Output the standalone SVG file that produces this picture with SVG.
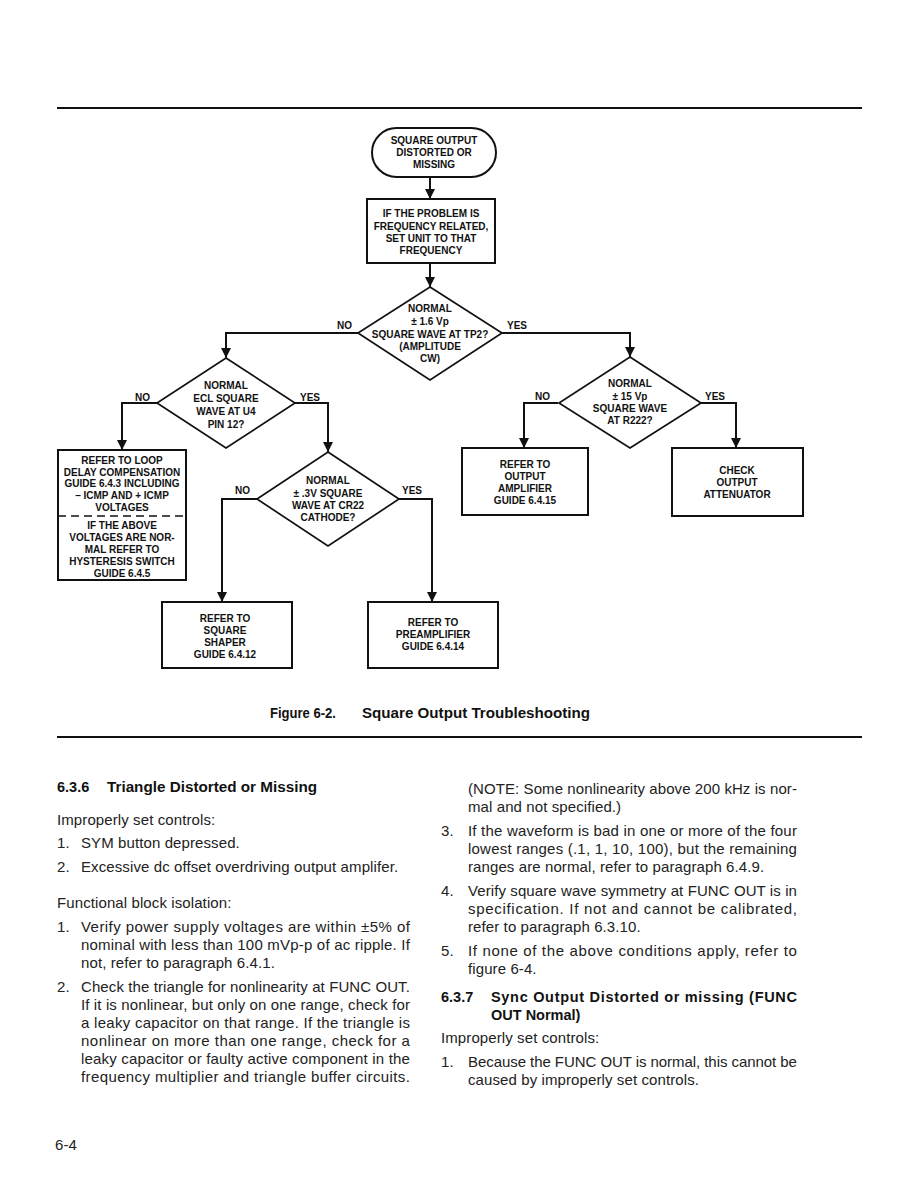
<svg xmlns="http://www.w3.org/2000/svg" width="918" height="1188" viewBox="0 0 918 1188">
<style>
.bg{fill:#fff}
.shape{fill:none;stroke:#111;stroke-width:2}
.dia{fill:none;stroke:#111;stroke-width:1.7}
.conn{fill:none;stroke:#111;stroke-width:2}
.fc{font-family:"Liberation Sans",Arial,sans-serif;font-weight:bold;font-size:10px;fill:#111;text-anchor:middle}
.lbl{font-family:"Liberation Sans",Arial,sans-serif;font-weight:bold;font-size:10px;fill:#111}
.body{font-family:"Liberation Sans",Arial,sans-serif;font-size:15px;letter-spacing:0.1px;fill:#222}
.hd{font-family:"Liberation Sans",Arial,sans-serif;font-weight:bold;font-size:14.5px;fill:#111}
.cap{font-family:"Liberation Sans",Arial,sans-serif;font-weight:bold;font-size:14px;fill:#111}
.rule{stroke:#111;stroke-width:2}
</style>
<defs>
<marker id="ah" markerUnits="userSpaceOnUse" markerWidth="10" markerHeight="10" refX="10" refY="5" orient="auto" viewBox="0 0 10 10">
<path d="M0,0 L10,5 L0,10 z" fill="#111"/>
</marker>
</defs>
<rect class="bg" x="0" y="0" width="918" height="1188"/>
<line class="rule" x1="57" y1="108" x2="862" y2="108"/>

<g id="connectors">
<line class="conn" x1="430" y1="177" x2="430" y2="199" marker-end="url(#ah)"/>
<line class="conn" x1="430" y1="263" x2="430" y2="287" marker-end="url(#ah)"/>
<polyline class="conn" points="358,333 226,333 226,358" marker-end="url(#ah)"/>
<polyline class="conn" points="502,333 630,333 630,357" marker-end="url(#ah)"/>
<polyline class="conn" points="157,403 122,403 122,450" marker-end="url(#ah)"/>
<polyline class="conn" points="295,403 328,403 328,452" marker-end="url(#ah)"/>
<polyline class="conn" points="257,499 222,499 222,602" marker-end="url(#ah)"/>
<polyline class="conn" points="398,499 432,499 432,602" marker-end="url(#ah)"/>
<polyline class="conn" points="558,403 524,403 524,448" marker-end="url(#ah)"/>
<polyline class="conn" points="700,403 736,403 736,448" marker-end="url(#ah)"/>
<text class="lbl" x="337" y="329">NO</text>
<text class="lbl" x="507" y="329">YES</text>
<text class="lbl" x="135" y="401">NO</text>
<text class="lbl" x="300" y="401">YES</text>
<text class="lbl" x="235" y="494">NO</text>
<text class="lbl" x="402" y="494">YES</text>
<text class="lbl" x="535" y="400">NO</text>
<text class="lbl" x="705" y="400">YES</text>
</g>

<g id="start">
<rect class="shape" x="372" y="128" width="124" height="49" rx="24.5" ry="24.5"/>
<text class="fc" x="434" y="144">SQUARE OUTPUT</text>
<text class="fc" x="434" y="156">DISTORTED OR</text>
<text class="fc" x="434" y="168">MISSING</text>
</g>

<g id="freq">
<rect class="shape" x="367" y="199" width="128" height="64"/>
<text class="fc" x="431" y="217">IF THE PROBLEM IS</text>
<text class="fc" x="431" y="230">FREQUENCY RELATED,</text>
<text class="fc" x="431" y="242">SET UNIT TO THAT</text>
<text class="fc" x="431" y="254">FREQUENCY</text>
</g>

<g id="d_tp2">
<polygon class="dia" points="430,287 502,333 430,380 358,333"/>
<text class="fc" x="430" y="312">NORMAL</text>
<text class="fc" x="430" y="325">± 1.6 Vp</text>
<text class="fc" x="430" y="338">SQUARE WAVE AT TP2?</text>
<text class="fc" x="430" y="350">(AMPLITUDE</text>
<text class="fc" x="430" y="362">CW)</text>
</g>

<g id="d_u4">
<polygon class="dia" points="226,358 295,403 226,448 157,403"/>
<text class="fc" x="226" y="389">NORMAL</text>
<text class="fc" x="226" y="402">ECL SQUARE</text>
<text class="fc" x="226" y="415">WAVE AT U4</text>
<text class="fc" x="226" y="428">PIN 12?</text>
</g>

<g id="d_r222">
<polygon class="dia" points="630,357 701,403 630,448 559,403"/>
<text class="fc" x="630" y="387">NORMAL</text>
<text class="fc" x="630" y="400">± 15 Vp</text>
<text class="fc" x="630" y="412">SQUARE WAVE</text>
<text class="fc" x="630" y="424">AT R222?</text>
</g>

<g id="d_cr22">
<polygon class="dia" points="328,452 399,499 328,546 257,499"/>
<text class="fc" x="328" y="484">NORMAL</text>
<text class="fc" x="328" y="497">± .3V SQUARE</text>
<text class="fc" x="328" y="509">WAVE AT CR22</text>
<text class="fc" x="328" y="521">CATHODE?</text>
</g>

<g id="loopdelay">
<rect class="shape" x="58" y="450" width="128" height="130"/>
<text class="fc" x="122" y="464">REFER TO LOOP</text>
<text class="fc" x="122" y="476">DELAY COMPENSATION</text>
<text class="fc" x="122" y="487">GUIDE 6.4.3 INCLUDING</text>
<text class="fc" x="122" y="499">– ICMP AND + ICMP</text>
<text class="fc" x="122" y="511">VOLTAGES</text>
<line x1="58" y1="516" x2="186" y2="516" stroke="#111" stroke-width="1.6" stroke-dasharray="8,5"/>
<text class="fc" x="122" y="529">IF THE ABOVE</text>
<text class="fc" x="122" y="541">VOLTAGES ARE NOR-</text>
<text class="fc" x="122" y="553">MAL REFER TO</text>
<text class="fc" x="122" y="565">HYSTERESIS SWITCH</text>
<text class="fc" x="122" y="577">GUIDE 6.4.5</text>
</g>

<g id="outamp">
<rect class="shape" x="462" y="448" width="126" height="67"/>
<text class="fc" x="525" y="468">REFER TO</text>
<text class="fc" x="525" y="480">OUTPUT</text>
<text class="fc" x="525" y="492">AMPLIFIER</text>
<text class="fc" x="525" y="504">GUIDE 6.4.15</text>
</g>

<g id="atten">
<rect class="shape" x="672" y="448" width="131" height="68"/>
<text class="fc" x="737" y="474">CHECK</text>
<text class="fc" x="737" y="486">OUTPUT</text>
<text class="fc" x="737" y="498">ATTENUATOR</text>
</g>

<g id="shaper">
<rect class="shape" x="162" y="602" width="130" height="66"/>
<text class="fc" x="225" y="622">REFER TO</text>
<text class="fc" x="225" y="634">SQUARE</text>
<text class="fc" x="225" y="646">SHAPER</text>
<text class="fc" x="225" y="658">GUIDE 6.4.12</text>
</g>

<g id="preamp">
<rect class="shape" x="368" y="602" width="130" height="66"/>
<text class="fc" x="433" y="626">REFER TO</text>
<text class="fc" x="433" y="638">PREAMPLIFIER</text>
<text class="fc" x="433" y="650">GUIDE 6.4.14</text>
</g>

<text class="cap" x="270" y="718" textLength="66" lengthAdjust="spacingAndGlyphs">Figure 6-2.</text>
<text class="cap" x="362" y="718" textLength="228" lengthAdjust="spacingAndGlyphs">Square Output Troubleshooting</text>
<line class="rule" x1="57" y1="737" x2="862" y2="737"/>

<g id="leftcol">
<text class="hd" x="57" y="792">6.3.6</text>
<text class="hd" x="107" y="792" textLength="210" lengthAdjust="spacingAndGlyphs">Triangle Distorted or Missing</text>
<text class="body" x="57" y="825">Improperly set controls:</text>
<text class="body" x="57" y="848">1.</text>
<text class="body" x="81" y="848">SYM button depressed.</text>
<text class="body" x="57" y="872">2.</text>
<text class="body" x="81" y="872">Excessive dc offset overdriving output amplifer.</text>
<text class="body" x="57" y="908">Functional block isolation:</text>
<text class="body" x="57" y="932">1.</text>
<text class="body" x="81" y="932" textLength="329" lengthAdjust="spacing">Verify power supply voltages are within ±5% of</text>
<text class="body" x="81" y="950" textLength="329" lengthAdjust="spacing">nominal with less than 100 mVp-p of ac ripple. If</text>
<text class="body" x="81" y="968">not, refer to paragraph 6.4.1.</text>
<text class="body" x="57" y="992">2.</text>
<text class="body" x="81" y="992" textLength="329" lengthAdjust="spacing">Check the triangle for nonlinearity at FUNC OUT.</text>
<text class="body" x="81" y="1010" textLength="329" lengthAdjust="spacing">If it is nonlinear, but only on one range, check for</text>
<text class="body" x="81" y="1028" textLength="329" lengthAdjust="spacing">a leaky capacitor on that range. If the triangle is</text>
<text class="body" x="81" y="1046" textLength="329" lengthAdjust="spacing">nonlinear on more than one range, check for a</text>
<text class="body" x="81" y="1064" textLength="329" lengthAdjust="spacing">leaky capacitor or faulty active component in the</text>
<text class="body" x="81" y="1082" textLength="329" lengthAdjust="spacing">frequency multiplier and triangle buffer circuits.</text>
</g>

<g id="rightcol">
<text class="body" x="468" y="794" textLength="329" lengthAdjust="spacing">(NOTE: Some nonlinearity above 200 kHz is nor-</text>
<text class="body" x="468" y="812">mal and not specified.)</text>
<text class="body" x="441" y="836">3.</text>
<text class="body" x="468" y="836" textLength="329" lengthAdjust="spacing">If the waveform is bad in one or more of the four</text>
<text class="body" x="468" y="854" textLength="329" lengthAdjust="spacing">lowest ranges (.1, 1, 10, 100), but the remaining</text>
<text class="body" x="468" y="872">ranges are normal, refer to paragraph 6.4.9.</text>
<text class="body" x="441" y="896">4.</text>
<text class="body" x="468" y="896" textLength="329" lengthAdjust="spacing">Verify square wave symmetry at FUNC OUT is in</text>
<text class="body" x="468" y="914" textLength="329" lengthAdjust="spacing">specification. If not and cannot be calibrated,</text>
<text class="body" x="468" y="932">refer to paragraph 6.3.10.</text>
<text class="body" x="441" y="956">5.</text>
<text class="body" x="468" y="956" textLength="329" lengthAdjust="spacing">If none of the above conditions apply, refer to</text>
<text class="body" x="468" y="974">figure 6-4.</text>
<text class="hd" x="441" y="1002">6.3.7</text>
<text class="hd" x="491" y="1002" textLength="306" lengthAdjust="spacing">Sync Output Distorted or missing (FUNC</text>
<text class="hd" x="491" y="1020">OUT Normal)</text>
<text class="body" x="441" y="1043">Improperly set controls:</text>
<text class="body" x="441" y="1067">1.</text>
<text class="body" x="468" y="1067" textLength="329" lengthAdjust="spacing">Because the FUNC OUT is normal, this cannot be</text>
<text class="body" x="468" y="1085">caused by improperly set controls.</text>
</g>

<text class="body" x="55" y="1150">6-4</text>
</svg>
